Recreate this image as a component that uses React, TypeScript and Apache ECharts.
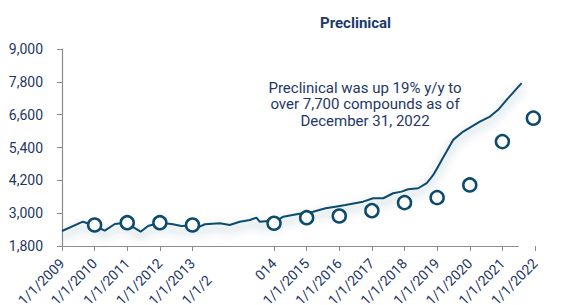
import React, { useEffect, useRef } from "react";
import * as echarts from "echarts";

// Positions are in axis units (1 unit = one year slot on the drawn axis)
const linePos = [0, 0.64, 0.95, 1.31, 1.62, 1.95, 2.41, 2.64, 2.97, 3.36, 3.66, 3.96, 4.22, 4.38, 4.84, 5.14, 5.45, 5.76, 5.96, 6.06, 6.32, 6.47, 6.78, 7.19, 7.7, 8.08, 8.38, 8.69, 9.23, 9.54, 9.85, 10.15, 10.41, 10.61, 10.92, 11.18, 11.28, 11.38, 11.53, 11.64, 11.79, 11.99, 12.3, 12.81, 13.12, 13.37, 13.63, 14.09];
const lineVals = [2349, 2689, 2568, 2360, 2605, 2652, 2323, 2532, 2652, 2605, 2532, 2550, 2506, 2594, 2630, 2568, 2689, 2751, 2835, 2689, 2715, 2630, 2872, 2960, 3055, 3179, 3238, 3300, 3421, 3545, 3545, 3728, 3787, 3874, 3911, 4094, 4240, 4398, 4701, 4946, 5250, 5678, 5982, 6348, 6530, 6776, 7141, 7752];

const dotPos = [1, 2, 3, 4, 6.5, 7.5, 8.5, 9.5, 10.5, 11.5, 12.5, 13.5, 14.45];
const dotVals = [2568, 2652, 2652, 2568, 2630, 2835, 2898, 3091, 3384, 3567, 4032, 5616, 6472];

const yTicks = [1800, 3000, 4200, 5400, 6600, 7800, 9000];
const xTickPos = [0, 1, 2, 3, 4, 6.5, 7.5, 8.5, 9.5, 10.5, 11.5, 12.5, 13.5, 14.5];
const xLabelPos = [0, 1, 2, 3, 4, 4.0001, 6.5, 7.5, 8.5, 9.5, 10.5, 11.5, 12.5, 13.5, 14.5];
const xLabels = ["1/1/2009", "1/1/2010", "1/1/2011", "1/1/2012", "1/1/2013", "1/1/2", "014", "1/1/2015", "1/1/2016", "1/1/2017", "1/1/2018", "1/1/2019", "1/1/2020", "1/1/2021", "1/1/2022"];

const titleText = "Preclinical";
const noteText = "Preclinical was up 19% y/y to\nover 7,700 compounds as of\nDecember 31, 2022";

const NAVY = "#1e3766";
const LINE = "#0d4b6e";
const GREY = "#8c8c8c";

export default function App() {
  const ref = useRef<HTMLDivElement>(null);
  useEffect(() => {
    if (!ref.current) return;
    const chart = echarts.init(ref.current, null, { renderer: "svg" });
    chart.setOption({
      animation: false,
      backgroundColor: "#ffffff",
      title: {
        text: titleText,
        left: 315,
        top: 10,
        textStyle: { fontFamily: "Roboto", fontSize: 15, fontWeight: "bold", color: "#1b3a6b" },
      },
      grid: { left: 62, right: 30, top: 49, bottom: 59, containLabel: false, outerBoundsMode: "none" },
      xAxis: {
        type: "value",
        min: 0,
        max: 14.5,
        axisLine: { show: false },
        splitLine: { show: false },
        axisTick: { show: true, length: 5, customValues: xTickPos, lineStyle: { color: GREY } },
        axisLabel: {
          customValues: xLabelPos,
          rotate: 45,
          margin: 15,
          color: NAVY,
          fontFamily: "Roboto",
          fontSize: 14,
          formatter: (v: number) => {
            const i = xLabelPos.findIndex((p) => Math.abs(p - v) < 1e-7);
            if (i < 0) return "";
            return xLabels[i] === "1/1/2" ? "{d|1/1/2}" : xLabels[i];
          },
          rich: {
            d: { padding: [47, 0, 0, 0], fontFamily: "Roboto", fontSize: 14, color: NAVY },
          },
        },
      },
      yAxis: {
        type: "value",
        min: 1800,
        max: 9000,
        splitLine: { show: false },
        axisLine: { show: true, lineStyle: { color: GREY, width: 1.2 } },
        axisTick: { show: true, length: 5, customValues: yTicks, lineStyle: { color: GREY } },
        axisLabel: {
          customValues: yTicks,
          margin: 19,
          color: NAVY,
          fontFamily: "Roboto",
          fontSize: 14,
          formatter: (v: number) => v.toLocaleString("en-US"),
        },
      },
      graphic: [
        {
          type: "text",
          x: 365,
          y: 79.5,
          style: {
            text: noteText,
            font: "15px Roboto",
            fill: NAVY,
            align: "center",
            verticalAlign: "top",
            lineHeight: 16.5,
          },
        },
      ],
      series: [
        {
          type: "line",
          data: linePos.map((p, i) => [p, lineVals[i]]),
          showSymbol: false,
          symbol: "none",
          lineStyle: {
            color: LINE,
            width: 2,
            shadowColor: "rgba(13,75,110,0.45)",
            shadowBlur: 10,
            shadowOffsetY: 5,
          },
          z: 2,
          markLine: {
            silent: true,
            symbol: "none",
            label: { show: false },
            lineStyle: { color: GREY, width: 1.2, type: "solid" },
            data: [[{ coord: [0, 1800] }, { coord: [14, 1800] }]],
          },
        },
        {
          type: "scatter",
          data: dotPos.map((p, i) => [p, dotVals[i]]),
          symbol: "circle",
          symbolSize: 13,
          itemStyle: { color: "#ffffff", borderColor: LINE, borderWidth: 2.5, opacity: 1 },
          z: 3,
        },
      ],
    });
    return () => chart.dispose();
  }, []);
  return (
    <div
      ref={ref}
      style={{ position: "absolute", left: 0, top: 0, width: 565, height: 305 }}
    />
  );
}
